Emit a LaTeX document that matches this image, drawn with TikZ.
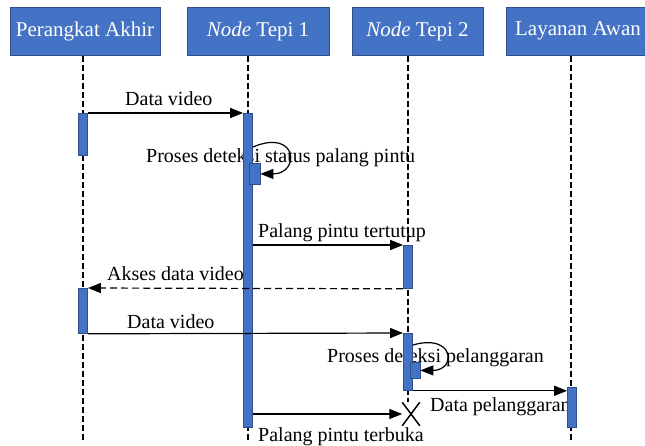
\documentclass[tikz,border=0pt]{standalone}
\usepackage{fontspec}
\setmainfont{Liberation Serif}
\usetikzlibrary{arrows.meta,shapes.misc}
\definecolor{headblue}{HTML}{4472C4}
\definecolor{headline}{HTML}{2F4F8A}
\begin{document}
\begin{tikzpicture}[x=1pt,y=-1pt,
  head/.style={draw=headline, fill=headblue, line width=1pt, text=white,
    font=\fontsize{21}{24}\selectfont, inner sep=0pt},
  bar/.style={draw=headline, fill=headblue, line width=0.8pt, inner sep=0pt},
  life/.style={line width=1.3pt, dash pattern=on 6pt off 3pt},
  msg/.style={line width=1.2pt, -{Triangle[length=13pt,width=10pt]}},
  ret/.style={msg, dash pattern=on 7pt off 4pt},
  lbl/.style={font=\fontsize{20}{24}\selectfont, inner sep=0pt, anchor=base west},
  endmark/.style={cross out, draw, line width=1.5pt, minimum width=16pt,
    minimum height=22pt, inner sep=0pt}]
\useasboundingbox (0,0) rectangle (645,445);
\clip (0,0) rectangle (645,445);

% participants
\node[head, minimum width=150pt, minimum height=48pt] (pa) at (85,31) {Perangkat Akhir};
\node[head, minimum width=142pt, minimum height=48pt] (nt1) at (258,31) {\textit{Node} Tepi 1};
\node[head, minimum width=131pt, minimum height=48pt] (nt2) at (417.5,31) {\textit{Node} Tepi 2};
\node[head, minimum width=144pt, minimum height=48pt] (la) at (578,31) {Layanan Awan};

% lifeline ends
\coordinate (l1) at (83,442);
\coordinate (l2) at (248,442);
\coordinate (l3) at (408,442);
\coordinate (l4) at (571,442);
\node[endmark] (stop) at (411,414) {};

% message labels (drawn first so bars and arrows lie on top)
\node[lbl] (t1) at (125,105) {Data video};
\node[lbl] (t2) at (146,162) {Proses deteksi status palang pintu};
\node[lbl] (t3) at (258,237) {Palang pintu tertutup};
\node[lbl] (t4) at (107,280) {Akses data video};
\node[lbl] (t5) at (127,328) {Data video};
\node[lbl] (t6) at (327,362) {Proses deteksi pelanggaran};
\node[lbl] (t7) at (430,411) {Data pelanggaran};
\node[lbl] (t8) at (258,441) {Palang pintu terbuka};

% lifelines
\draw[life] (pa.south -| l1) -- (l1);
\draw[life] (nt1.south -| l2) -- (l2);
\draw[life] (nt2.south -| l3) -- (l3 |- stop.north);
\draw[life] (la.south -| l4) -- (l4);

% activation bars
\node[bar, minimum width=9pt, minimum height=42pt, anchor=north] (pa1) at (83,113) {};
\node[bar, minimum width=9pt, minimum height=314pt, anchor=north] (nt1a) at (248,113) {};
\node[bar, minimum width=11pt, minimum height=21pt, anchor=north] (nt1s) at (254.5,163) {};
\node[bar, minimum width=9pt, minimum height=43pt, anchor=north] (nt2a) at (408,245) {};
\node[bar, minimum width=9pt, minimum height=45pt, anchor=north] (pa2) at (83,288) {};
\node[bar, minimum width=9pt, minimum height=57pt, anchor=north] (nt2b) at (408,333) {};
\node[bar, minimum width=10pt, minimum height=16pt, anchor=north] (nt2s) at (415,362) {};
\node[bar, minimum width=9pt, minimum height=40pt, anchor=north] (la1) at (572,387) {};

% messages
\draw[msg] (pa1.north east) -- (nt1a.north west);
\draw[msg] ([yshift=16pt]nt1s.north -| nt1a.east)
  .. controls +(45,-19) and +(40,0) .. (nt1s.east);
\draw[msg] (nt1a.east |- nt2a.north) -- (nt2a.north west);
\draw[ret] (nt2a.south west) -- (pa2.north east);
\draw[msg] (pa2.south east) -- (nt2b.north west);
\draw[msg] ([yshift=17pt]nt2s.north -| nt2b.east)
  .. controls +(42,-12) and +(36,0) .. (nt2s.east);
\draw[msg] (nt2b.south east) -- (la1.west |- nt2b.south);
\draw[msg] (nt1a.east |- stop.west) -- (stop.west);
\end{tikzpicture}
\end{document}
